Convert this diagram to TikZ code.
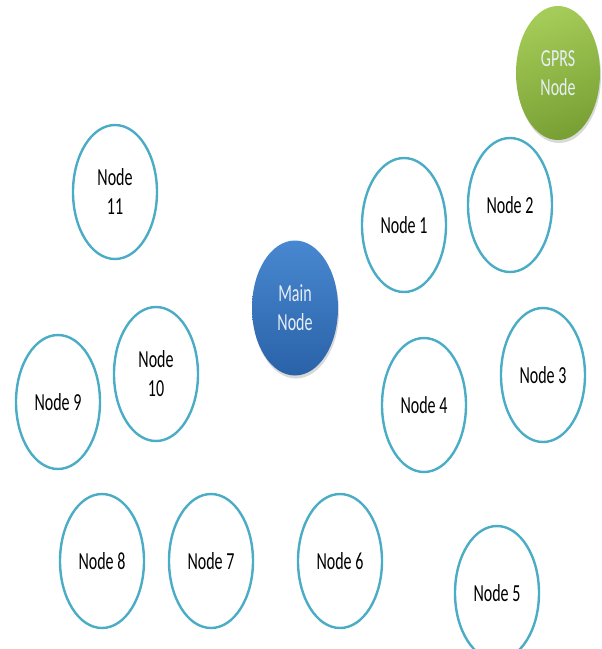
\documentclass[tikz,border=0pt]{standalone}
\usepackage{fontspec}
\setmainfont{Carlito}
\usepackage{graphicx}
\usetikzlibrary{shapes.geometric,shadows}
\definecolor{aqua}{RGB}{75,172,198}
\definecolor{bluetop}{RGB}{72,136,208}
\definecolor{bluebot}{RGB}{42,98,168}
\definecolor{greentop}{RGB}{165,204,88}
\definecolor{greenbot}{RGB}{120,160,52}
\definecolor{lighttext}{RGB}{232,238,246}
\newcommand{\tx}[1]{\raisebox{-2pt}[\height][\depth]{\scalebox{1}[1.53]{\begin{tabular}{@{}c@{}}#1\end{tabular}}}}
\begin{document}
\begin{tikzpicture}[x=1pt,y=-1pt,
  base/.style={ellipse, minimum width=84pt, minimum height=134pt, inner sep=0pt,
    font=\fontsize{16}{19.6}\selectfont},
  nd/.style={base, draw=aqua, line width=2.4pt, fill=white, text=black},
  mainnd/.style={base, minimum width=86pt, minimum height=135pt, top color=bluetop, bottom color=bluebot,
    text=lighttext, drop shadow={opacity=0.3, shadow xshift=1pt, shadow yshift=-3pt}},
  gprsnd/.style={base, top color=greentop, bottom color=greenbot, shading angle=20,
    text=lighttext, drop shadow={opacity=0.3, shadow xshift=1pt, shadow yshift=-3pt}}]
\useasboundingbox (0,0) rectangle (602,649);
\node[gprsnd] (gprs) at (558,73) {\tx{GPRS\\Node}};
\node[nd] (n11) at (115,192) {\tx{Node\\11}};
\node[nd] (n1) at (404,225) {\tx{Node 1}};
\node[nd] (n2) at (510,205) {\tx{Node 2}};
\node[mainnd] (main) at (295,308) {\tx{Main\\Node}};
\node[nd] (n3) at (543,375) {\tx{Node 3}};
\node[nd] (n4) at (424,405) {\tx{Node 4}};
\node[nd] (n9) at (58,402) {\tx{Node 9}};
\node[nd] (n10) at (156,374) {\tx{Node\\10}};
\node[nd] (n8) at (102,561) {\tx{Node 8}};
\node[nd] (n7) at (211,561) {\tx{Node 7}};
\node[nd] (n6) at (340,561) {\tx{Node 6}};
\node[nd] (n5) at (497,593) {\tx{Node 5}};
\end{tikzpicture}
\end{document}
